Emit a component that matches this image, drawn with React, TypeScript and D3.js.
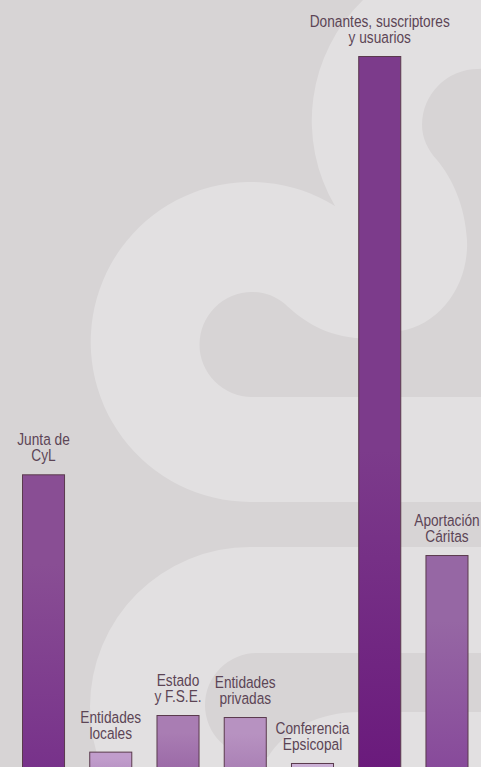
import React, { useEffect } from "react";
import * as d3 from "d3";

const categories = ["junta", "locales", "estado", "privadas", "conferencia", "donantes", "aportacion"];
const labelLine1 = ["Junta de", "Entidades", "Estado", "Entidades", "Conferencia", "Donantes, suscriptores", "Aportación"];
const labelLine2 = ["CyL", "locales", "y F.S.E.", "privadas", "Epsicopal", "y usuarios", "Cáritas"];
const values = [21.9, 1.15, 3.89, 3.74, 0.3, 53.2, 15.86];

const topColors = ["#894e94", "#c19dcc", "#a97db3", "#b792c1", "#cbb1d6", "#7c3b8b", "#9667a4"];
const bottomColors = ["#77318a", "#b690c2", "#9a68a6", "#a97fb4", "#c3a5cf", "#6a1a7c", "#87499a"];

const W = 481;
const H = 767;

export default function App() {
  useEffect(() => {
    document.body.style.margin = "0";
    document.body.style.overflow = "hidden";
  }, []);

  const x = d3.scaleBand<string>().domain(categories).range([22, 468.5]).paddingInner(0.36).paddingOuter(0);
  const y = d3.scaleLinear().domain([0, 53.2]).range([H, 56]);
  const bw = x.bandwidth();

  const dark = "#d7d4d5";
  const light = "#e2e0e1";
  const textColor = "#5c4555";
  const font = "'Liberation Sans', Arial, sans-serif";

  return (
    <svg width={W} height={H} style={{ position: "absolute", left: 0, top: 0, display: "block" }}>
      <defs>
        {categories.map((c, i) => (
          <linearGradient key={c} id={`g-${c}`} x1="0" y1="0" x2="0" y2="1">
            <stop offset="0" stopColor={topColors[i]} />
            <stop offset={i === 5 ? "0.55" : "0.3"} stopColor={topColors[i]} />
            <stop offset="1" stopColor={bottomColors[i]} />
          </linearGradient>
        ))}
      </defs>
      <rect x={0} y={0} width={W} height={H} fill={dark} />
      <path d="M363,0 L490,0 L490,502 L250,502 A160,160 0 1 1 335,206 A168,168 0 0 1 363,0 Z" fill={light} />
      <path
        d="M490,68 L478,69 A56,56 0 0 0 422,125 C422,138 428,150 437,160 C452,178 465,205 467,240 C469,285 440,325 400,331 C380,335 365,339 355,338 C320,334 300,318 285,304 C275,296 265,292 252,292 A52.5,52.5 0 0 0 252,397 L490,397 Z"
        fill={dark}
      />
      <path d="M250,547 L490,547 L490,880 L250,867 A160,160 0 0 1 250,547 Z" fill={light} />
      <path d="M257,653 L490,653 L490,712 L360,712 C318,712 285,730 268,757 L257,757 A52,52 0 0 1 257,653 Z" fill={dark} />

      {categories.map((c, i) => {
        const x0 = x(c) as number;
        const yTop = y(values[i]);
        const cx = x0 + bw / 2;
        return (
          <g key={c}>
            <rect
              x={x0 + 0.5}
              y={yTop + 0.5}
              width={bw - 1}
              height={H - yTop + 5}
              fill={`url(#g-${c})`}
              stroke="#5a3a4d"
              strokeWidth={1}
            />
            <text
              transform={`translate(${cx},${yTop - 13}) scale(0.83,1)`}
              textAnchor="middle"
              fontFamily={font}
              fontSize={16.5}
              fill={textColor}
            >
              <tspan x={0} y={-16}>{labelLine1[i]}</tspan>
              <tspan x={0} y={0}>{labelLine2[i]}</tspan>
            </text>
          </g>
        );
      })}
    </svg>
  );
}
